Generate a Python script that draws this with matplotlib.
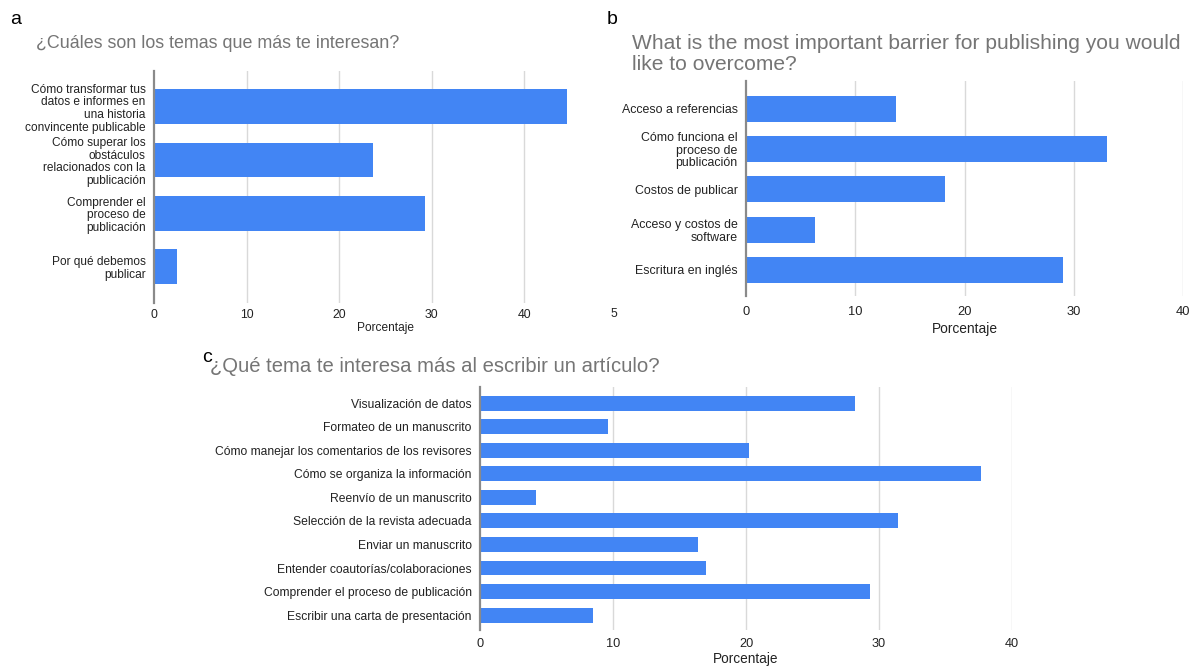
import matplotlib
matplotlib.use("Agg")
import matplotlib.pyplot as plt
import numpy as np

plt.rcParams['font.family'] = ['Liberation Sans', 'DejaVu Sans']

# ---------------- data ----------------
title_a = "¿Cuáles son los temas que más te interesan?"
cats_a = ["Cómo transformar tus\ndatos e informes en\nuna historia\nconvincente publicable",
          "Cómo superar los\nobstáculos\nrelacionados con la\npublicación",
          "Comprender el\nproceso de\npublicación",
          "Por qué debemos\npublicar"]
vals_a = [44.6, 23.7, 29.3, 2.45]
ticks_a = [0, 10, 20, 30, 40]

title_b = "What is the most important barrier for publishing you would\nlike to overcome?"
cats_b = ["Acceso a referencias",
          "Cómo funciona el\nproceso de\npublicación",
          "Costos de publicar",
          "Acceso y costos de\nsoftware",
          "Escritura en inglés"]
vals_b = [13.7, 33.0, 18.2, 6.3, 29.0]
ticks_b = [0, 10, 20, 30, 40]

title_c = "¿Qué tema te interesa más al escribir un artículo?"
cats_c = ["Visualización de datos",
          "Formateo de un manuscrito",
          "Cómo manejar los comentarios de los revisores",
          "Cómo se organiza la información",
          "Reenvío de un manuscrito",
          "Selección de la revista adecuada",
          "Enviar un manuscrito",
          "Entender coautorías/colaboraciones",
          "Comprender el proceso de publicación",
          "Escribir una carta de presentación"]
vals_c = [28.2, 9.6, 20.2, 37.7, 4.2, 31.4, 16.4, 17.0, 29.3, 8.5]
ticks_c = [0, 10, 20, 30, 40]

xlabel = "Porcentaje"

BAR = "#4285F4"
GRID = "#d9d9d9"
AXIS = "#8a8a8a"
TITLE = "#757575"
TXT = "#222222"

W, H = 1192, 666
fig = plt.figure(figsize=(W / 100, H / 100), dpi=100)


def px_axes(l, t, r, b):
    return fig.add_axes([l / W, 1 - b / H, (r - l) / W, (b - t) / H])


def style(ax, cats, vals, ticks, xmax, ylab_fs, tick_fs, xl_fs, xl_pad, bh=0.645,
          top_m=0.68, bot_m=0.66, tick_pad=4, lsp=1.05):
    y = np.arange(len(cats))
    ax.barh(y, vals, height=bh, color=BAR, zorder=3)
    ax.set_xlim(0, xmax)
    ax.set_ylim(len(cats) - 1 + bot_m, -top_m)
    ax.set_yticks(y)
    ax.set_yticklabels(cats, fontsize=ylab_fs, color=TXT, linespacing=lsp)
    ax.set_xticks(ticks)
    ax.set_xticklabels([str(t) for t in ticks], fontsize=tick_fs, color=TXT)
    ax.tick_params(axis='both', length=0)
    ax.tick_params(axis='y', pad=6)
    ax.tick_params(axis='x', pad=tick_pad)
    for s in ['top', 'right', 'bottom']:
        ax.spines[s].set_visible(False)
    ax.spines['left'].set_color(AXIS)
    ax.spines['left'].set_linewidth(1.6)
    ax.spines['left'].set_zorder(4)
    for t in ticks[1:]:
        ax.axvline(t, color=GRID, lw=1.0, zorder=1)
    ax.set_xlabel(xlabel, fontsize=xl_fs, color=TXT, labelpad=xl_pad)


# panel a
axa = px_axes(154, 71, 617, 303)
style(axa, cats_a, vals_a, ticks_a, 50, 8.6, 8.8, 8.6, 1, bh=0.65, top_m=0.67, bot_m=0.68,
      tick_pad=4, lsp=1.08)
axa.text(50, -0.02, "5", transform=axa.get_xaxis_transform(), ha='right', va='top',
         fontsize=8.8, color=TXT)
fig.text(36 / W, 1 - 44 / H, title_a, fontsize=12.9, color=TITLE, ha='left', va='center')
fig.text(10 / W, 1 - 19 / H, "a", fontsize=14, color='black', ha='left', va='center')

# panel b
axb = px_axes(746, 81, 1183, 296)
style(axb, cats_b, vals_b, ticks_b, 40, 8.9, 9.3, 9.9, 3, bh=0.645, top_m=0.69, bot_m=0.65,
      tick_pad=7, lsp=1.05)
fig.text(632 / W, 1 - 54 / H, title_b, fontsize=15.1, color=TITLE, ha='left', va='center',
         linespacing=1.1)
fig.text(607 / W, 1 - 19 / H, "b", fontsize=14, color='black', ha='left', va='center')

# panel c
axc = px_axes(480, 387, 1012, 630)
style(axc, cats_c, vals_c, ticks_c, 40, 8.7, 9.2, 9.8, 1, bh=0.635, top_m=0.68, bot_m=0.63,
      tick_pad=6)
fig.text(210 / W, 1 - 367 / H, title_c, fontsize=14.6, color=TITLE, ha='left', va='center')
fig.text(202 / W, 1 - 357 / H, "c", fontsize=14, color='black', ha='left', va='center')

fig.savefig("out.png", dpi=100, facecolor='white')
